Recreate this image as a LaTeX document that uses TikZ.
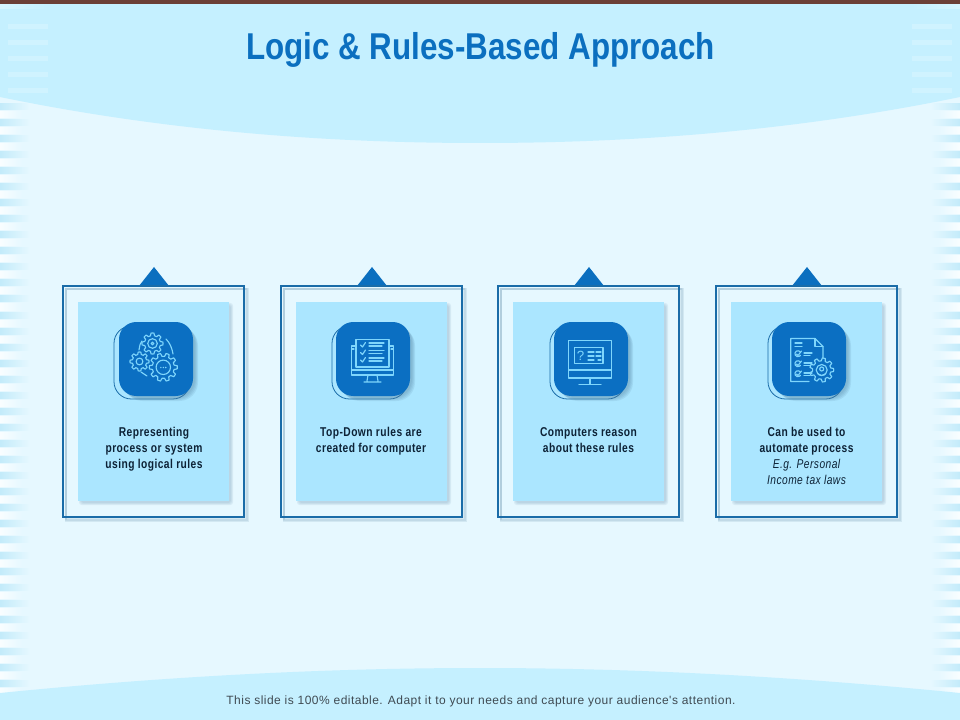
\documentclass[tikz,border=0pt]{standalone}
\usepackage{fontspec}
\setmainfont{Liberation Sans}
\newfontfamily\titlefont[FakeStretch=0.84]{Liberation Sans}
\newfontfamily\narrowfont[FakeStretch=0.80,LetterSpace=3.5]{Liberation Sans}
\newfontfamily\footfont[LetterSpace=4]{Liberation Sans}
\usetikzlibrary{calc}
\definecolor{pagebg}{HTML}{E6F8FF}
\definecolor{bandbg}{HTML}{C5F0FF}
\definecolor{stripec}{HTML}{C3EBFA}
\definecolor{stripel}{HTML}{D6F5FF}
\definecolor{topbar}{HTML}{6B3F36}
\definecolor{framec}{HTML}{1A6CA8}
\definecolor{cardc}{HTML}{ABE6FF}
\definecolor{boxc}{HTML}{0B6FC2}
\definecolor{iconc}{HTML}{7FD6FC}
\definecolor{titlec}{HTML}{0B6FBF}
\definecolor{textc}{HTML}{0D2236}
\definecolor{footc}{HTML}{3F4A52}
\definecolor{shadowc}{HTML}{4F7F9F}
\tikzset{
  x=0.75pt,y=-0.75pt,
  frameline/.style={draw=framec,line width=1.5pt},
  iconline/.style={draw=iconc,line width=0.85pt,line cap=round,line join=round},
  cardtext/.style={text=textc,align=center,font=\narrowfont\bfseries\fontsize{9.6}{12}\selectfont,anchor=north},
  softshadow/.style={fill=shadowc,fill opacity=0.10,draw=none},
}
\newcommand{\softrect}[5]{%
  \foreach \g in {0,1,2}{
    \fill[softshadow,rounded corners=#5] (#1+3-\g,#2+3-\g) rectangle (#3+2+\g,#4+2+\g);
  }}
\newcommand{\mygear}[5]{%
  \pgfmathsetmacro{\st}{360/#5}
  \draw[iconline] ($(#1,#2)+(0:#3)$)
    \foreach \k in {1,...,#5}{
      -- ($(#1,#2)+({(\k-1)*\st+0.18*\st}:#3)$)
      -- ($(#1,#2)+({(\k-1)*\st+0.32*\st}:#4)$)
      -- ($(#1,#2)+({(\k-1)*\st+0.68*\st}:#4)$)
      -- ($(#1,#2)+({(\k-1)*\st+0.82*\st}:#3)$)
      -- ($(#1,#2)+({\k*\st}:#3)$)
    } -- cycle;}
\newcommand{\card}[3]{%
  \pgfmathsetmacro{\fl}{#1}
  \pgfmathsetmacro{\fr}{#1+181}
  \pgfmathsetmacro{\il}{#1+15}
  \pgfmathsetmacro{\ir}{#1+166}
  \pgfmathsetmacro{\tc}{#1+91}
  \pgfmathsetmacro{\bl}{#2}
  \pgfmathsetmacro{\br}{#2+74}
  \pgfmathsetmacro{\ol}{#3}
  \pgfmathsetmacro{\orr}{#2+71}
  \foreach \g in {0,1,2}{
    \draw[draw=shadowc,draw opacity=0.13,line width=1.4pt] (\fl+3,286+3) rectangle (\fr+2+\g,517+2+\g);
  }
  \fill[titlec] (\tc-15,286) -- (\tc,267) -- (\tc+15,286) -- cycle;
  \draw[frameline] (\fl,286) rectangle (\fr,517);
  \softrect{\il}{302}{\ir}{501}{2}
  \fill[cardc] (\il,302) rectangle (\ir,501);
  \draw[draw=framec,fill=cardc,line width=0.6pt,rounded corners=13] (\ol,326) rectangle (\orr,399);
  \foreach \g in {0,1,2,3}{
    \fill[shadowc,fill opacity=0.13,rounded corners=14] (\bl+2+\g,322+2+\g) rectangle (\br+2+\g,396+2+\g);
  }
  \fill[boxc,rounded corners=13] (\bl,322) rectangle (\br,396);
}
\begin{document}
\begin{tikzpicture}
\useasboundingbox (0,0) rectangle (960,720);
\fill[pagebg] (0,0) rectangle (960,720);
% side stripes, mid region
\foreach \yy in {104,120,...,680}{
  \shade[left color=stripec,right color=pagebg] (0,\yy) rectangle (30,\yy+6);
  \shade[right color=stripec,left color=pagebg] (930,\yy) rectangle (960,\yy+6);
  \shade[left color=white!75!pagebg,right color=pagebg] (0,\yy+8) rectangle (22,\yy+14);
  \shade[right color=white!75!pagebg,left color=pagebg] (938,\yy+8) rectangle (960,\yy+14);
}
% top band
\fill[bandbg] (0,0) -- (960,0) -- (960,97) .. controls (800,130) and (640,143) .. (480,143) .. controls (320,143) and (160,130) .. (0,97) -- cycle;
\foreach \yy in {24,40,...,88}{
  \fill[stripel,fill opacity=0.7] (8,\yy) rectangle (48,\yy+5);
  \fill[stripel,fill opacity=0.7] (912,\yy) rectangle (952,\yy+5);
}
\shade[left color=stripel,right color=bandbg] (0,5) rectangle (48,9);
\shade[right color=stripel,left color=bandbg] (912,5) rectangle (960,9);
% bottom band
\fill[bandbg] (0,693) .. controls (160,677) and (320,668) .. (480,668) .. controls (640,668) and (800,677) .. (960,693) -- (960,720) -- (0,720) -- cycle;
\fill[topbar] (0,0) rectangle (960,4.5);
\node[text=titlec,font=\titlefont\bfseries\fontsize{28}{32}\selectfont] (title) at (480.5,50) {Logic \& Rules-Based Approach};
\node[text=footc,font=\footfont\fontsize{9}{11}\selectfont] (foot) at (481,701) {This slide is 100\% editable. Adapt it to your needs and capture your audience's attention.};
% cards
\card{63}{119}{114}
\card{281}{336}{332}
\card{498}{554}{550}
\card{716}{772}{768}
% icon 1
\mygear{163.3}{367.3}{14}{11}{10}
\draw[iconline] (163.3,367.3) circle (7.2);
\foreach \d in {-2.4,0,2.4}{\fill[iconc] (163.3+\d,367.5) circle (0.8);}
\mygear{152.5}{343.5}{10.5}{8}{8}
\draw[iconline] (152.5,343.5) circle (4.8);
\draw[iconline] (152.5,343.5) circle (1.4);
\mygear{139.5}{361.5}{9.5}{7.2}{8}
\draw[iconline] (139.5,361.5) circle (3.4);
\draw[iconline] (139,350) .. controls (140,344) .. (142,341);
\draw[iconline] (166,339) .. controls (170,343) and (172,348) .. (173,354);
\draw[iconline] (141,372) -- (147,376);
% icon 2
\draw[iconline] (356,346) -- (351.7,346) -- (351.7,375) -- (393.3,375) -- (393.3,346) -- (389,346);
\draw[iconline] (354,349) -- (351.7,349);
\draw[iconline] (391,349) -- (393.3,349);
\draw[iconline] (356,339.5) rectangle (389,367);
\draw[iconline] (351.7,370) -- (393.3,370);
\draw[iconline] (368,375) -- (367,381) (377,375) -- (378,381) (364,382) -- (381,382);
\foreach \yy in {345,352.5,360}{
  \draw[iconline] (360.5,\yy) -- (362.5,\yy+2) -- (365.5,\yy-2.5);
  \draw[iconline] (369,\yy-2) -- (384,\yy-2);
  \draw[iconline] (369,\yy+1) -- (382,\yy+1);
}
% icon 3
\draw[iconline] (568.5,340.5) rectangle (611.5,378);
\draw[iconline] (568.5,370) -- (611.5,370);
\draw[iconline] (574.5,347.5) -- (603,347.5) -- (603,363.5) -- (574.5,363.5) -- cycle;
\node[text=iconc,inner sep=0pt,font=\fontsize{10}{10}\selectfont] (qmark) at (580.5,356) {?};
\draw[iconline] (588,352) -- (594,352) (596,352) -- (601,352) (588,356) -- (594,356) (596,356) -- (601,356) (588,360) -- (594,360) (598,360) -- (601,360);
\draw[iconline] (590,378) -- (590,384) (579,384.5) -- (601,384.5);
% icon 4
\draw[iconline] (809,381.5) -- (790.7,381.5) -- (790.7,338.5) -- (815,338.5) -- (823,346.5) -- (823,358);
\draw[iconline] (815,338.5) -- (815,346.5) -- (823,346.5);
\draw[iconline] (795,343) -- (802,343) (795,346.5) -- (802,346.5);
\foreach \yy in {354,364,374}{
  \draw[iconline] (800.5,\yy-1.8) arc (-30:-330:3);
  \draw[iconline] (796.5,\yy) -- (798,\yy+1.5) -- (801.5,\yy-3);
  \draw[iconline] (804,\yy-1) -- (812,\yy-1) (804,\yy+1.5) -- (810,\yy+1.5);
}
\mygear{821.7}{370}{12}{9.2}{9}
\draw[iconline] (821.7,370) circle (5.5);
\draw[iconline] (821.7,369) circle (2);
\draw[iconline] (818,373.5) arc (180:0:3.7 and 2);
% labels
\node[cardtext] (t1) at (154,420.6) {\strut Representing\\process or system\\using logical rules};
\node[cardtext] (t2) at (371,420.6) {\strut Top-Down rules are\\created for computer};
\node[cardtext] (t3) at (588.5,420.6) {\strut Computers reason\\about these rules};
\node[cardtext] (t4) at (806.5,420.6) {\strut Can be used to\\automate process\\{\mdseries\itshape E.g. Personal}\\{\mdseries\itshape Income tax laws}};
\end{tikzpicture}
\end{document}
